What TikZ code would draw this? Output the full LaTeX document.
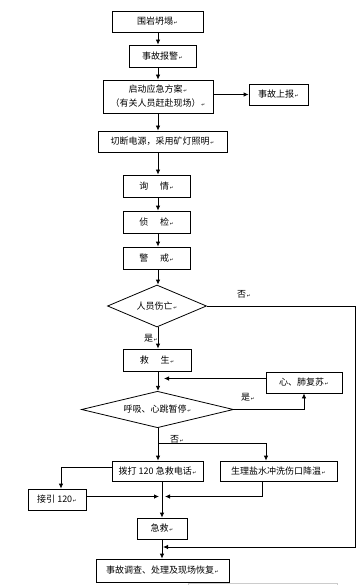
\documentclass[tikz,border=0pt]{standalone}
\usepackage{fontspec}
\newfontfamily\cjk{Noto Sans CJK SC}
\newfontfamily\djv{DejaVu Sans}
\usetikzlibrary{shapes.geometric,arrows.meta}
\newcommand{\pmk}{{\djv\fontsize{4.5}{5}\selectfont\,↵}}
\tikzset{
  box/.style={draw, line width=0.8pt, rectangle, inner sep=0pt, align=center,
    font=\cjk\fontsize{9}{14}\selectfont},
  dia/.style={draw, line width=0.8pt, diamond, inner sep=0pt, aspect=2.4,
    font=\cjk\fontsize{9}{11}\selectfont},
  arr/.style={-{Latex[length=5pt,width=4.5pt]}, line width=0.8pt},
  ln/.style={line width=0.8pt},
  lab/.style={font=\cjk\fontsize{9}{11}\selectfont, inner sep=0pt}
}
\begin{document}
\begin{tikzpicture}[x=1pt,y=-1pt]
\useasboundingbox[fill=white] (0,0) rectangle (362,585);
% columns
\coordinate (ca) at (158,0);
\coordinate (cb) at (162,0);
% nodes
\node[box, minimum width=91pt, minimum height=21pt] (b1) at (157.5,21.5) {围岩坍塌\pmk};
\node[box, minimum width=67pt, minimum height=22pt] (b2) at (162.5,56) {事故报警\pmk};
\node[box, minimum width=110pt, minimum height=33pt] (b3) at (158,96.5) {启动应急方案\pmk\\（有关人员赶赴现场）\pmk};
\node[box, minimum width=59pt, minimum height=21pt] (b4) at (278.5,94.5) {事故上报\pmk};
\node[box, minimum width=129pt, minimum height=21pt] (b5) at (162.5,141.5) {切断电源，采用矿灯照明\pmk};
\node[box, minimum width=67pt, minimum height=22pt] (b6) at (156.5,186) {询\hspace{1.3em}情\pmk};
\node[box, minimum width=67pt, minimum height=22pt] (b7) at (156.5,222) {侦\hspace{1.3em}检\pmk};
\node[box, minimum width=67pt, minimum height=22pt] (b8) at (156.5,258) {警\hspace{1.3em}戒\pmk};
\node[dia, minimum width=99pt, minimum height=42pt] (d1) at (157,306) {人员伤亡\pmk};
\node[box, minimum width=68pt, minimum height=22pt] (b9) at (157,360) {救\hspace{1.3em}生\pmk};
\node[box, minimum width=76pt, minimum height=21pt] (b10) at (304,382.5) {心、肺复苏\pmk};
\node[dia, minimum width=152pt, minimum height=27pt] (d2) at (157.5,409.5) {呼吸、心跳暂停\pmk};
\node[box, minimum width=91pt, minimum height=20pt] (b11) at (157.5,471) {拨打 120 急救电话\pmk};
\node[box, minimum width=117pt, minimum height=20pt] (b12) at (278.5,471) {生理盐水冲洗伤口降温\pmk};
\node[box, minimum width=58pt, minimum height=21pt] (b13) at (57,499.5) {接引 120\pmk};
\node[box, minimum width=50pt, minimum height=21pt] (b14) at (162,528.5) {急救\pmk};
\node[box, minimum width=133pt, minimum height=23pt] (b15) at (162.5,570.5) {事故调查、处理及现场恢复\pmk};
% helper coordinates
\coordinate (rx) at (355,306);
\coordinate (ry) at (355,547);
\coordinate (ryend) at (163,547);
\coordinate (cpin) at (164,378.5);
\coordinate (cp) at (304,409.5);
\coordinate (br1) at (158,443);
\coordinate (br2) at (266,443);
\coordinate (jl) at (61,467.5);
\coordinate (jin) at (159,496.5);
\coordinate (sl) at (262,496.5);
\coordinate (sin) at (165,496.5);
% connectors
\draw[arr] (b1.south -| ca) -- (b2.north -| ca);
\draw[arr] (b2.south -| ca) -- (b3.north -| ca);
\draw[arr] (b3.east |- b4) -- (b4.west);
\draw[arr] (b3.south -| ca) -- (b5.north -| ca);
\draw[arr] (b5.south -| ca) -- (b6.north -| ca);
\draw[arr] (b6.south -| ca) -- (b7.north -| ca);
\draw[arr] (b7.south -| ca) -- (b8.north -| ca);
\draw[arr] (b8.south -| ca) -- (d1.north -| ca);
\draw[arr] (d1.east) -- (rx) -- (ry) -- (ryend);
\draw[arr] (d1.south -| ca) -- (b9.north -| ca);
\draw[arr] (b9.south -| ca) -- (d2.north -| ca);
\draw[arr] (b10.west |- cpin) -- (cpin);
\draw[arr] (d2.east) -- (cp) -- (b10.south);
\draw[arr] (d2.south -| ca) -- (b11.north -| ca);
\draw[arr] (br1) -- (br2) -- (b12.north -| br2);
\draw[arr] (b11.west |- jl) -- (jl) -- (b13.north -| jl);
\draw[arr] (b13.east |- jin) -- (jin);
\draw[arr] (b12.south -| sl) -- (sl) -- (sin);
\draw[arr] (b11.south -| cb) -- (b14.north -| cb);
\draw[arr] (b14.south -| cb) -- (b15.north -| cb);
% labels
\node[lab] (l1) at (244,294) {否\pmk};
\node[lab] (l2) at (151,338) {是\pmk};
\node[lab] (l3) at (248,397) {是\pmk};
\node[lab] (l4) at (177,439) {否\pmk};
% faint gray element at bottom edge
\draw[gray!40, line width=0.6pt] (188,590) -- (188,583.5) -- (337,583.5) -- (337,590);
\end{tikzpicture}
\end{document}
